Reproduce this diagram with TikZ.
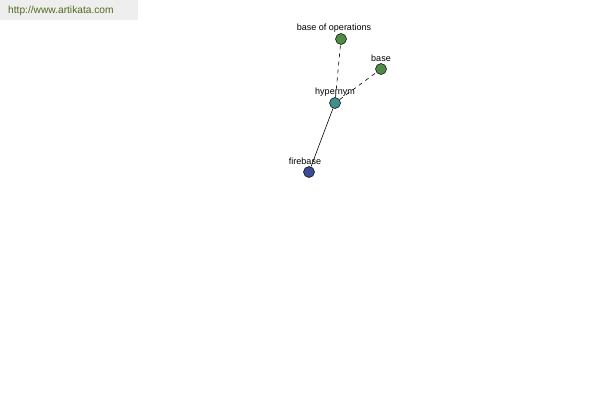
\documentclass[tikz,border=0pt]{standalone}
\usepackage{fontspec}
\setmainfont{Liberation Sans}
\usetikzlibrary{positioning}
\definecolor{termgreen}{HTML}{4E8B45}
\definecolor{termteal}{HTML}{3F8F8C}
\definecolor{termblue}{HTML}{3D4A96}
\definecolor{sitegreen}{HTML}{4F6A1E}
\definecolor{sitegray}{HTML}{EEEEEE}
\tikzset{
  term/.style={circle, draw=black, line width=0.5pt, minimum size=11pt, inner sep=0pt},
  termlabel/.style={font=\fontsize{9}{10}\selectfont, inner sep=1pt},
  link/.style={line width=0.6pt},
  weaklink/.style={line width=0.6pt, dashed, dash pattern=on 4pt off 4pt}
}

\begin{document}
\begin{tikzpicture}[x=1pt, y=-1pt]
\useasboundingbox (0,0) rectangle (600,400);
\fill[sitegray] (0,0) rectangle (138,20);
\node[anchor=west, font=\fontsize{10.2}{11}\selectfont, text=sitegreen, inner sep=0pt] (site) at (8,11) {http://www.artikata.com};
\node[term, fill=termgreen] (ops) at (341,39) {};
\node[term, fill=termgreen] (base) at (381,69) {};
\node[term, fill=termteal] (hyper) at (335,103) {};
\node[term, fill=termblue] (fire) at (309,172) {};
\node[termlabel, above=0pt of ops, xshift=-7pt] {base of operations};
\node[termlabel, above=0pt of base] {base};
\node[termlabel, above=0pt of hyper] {hypernym};
\node[termlabel, above=0pt of fire, xshift=-4pt] {firebase};
\draw[link] (hyper) -- (fire);
\draw[weaklink] (hyper) -- (ops);
\draw[weaklink] (hyper) -- (base);
\end{tikzpicture}
\end{document}
